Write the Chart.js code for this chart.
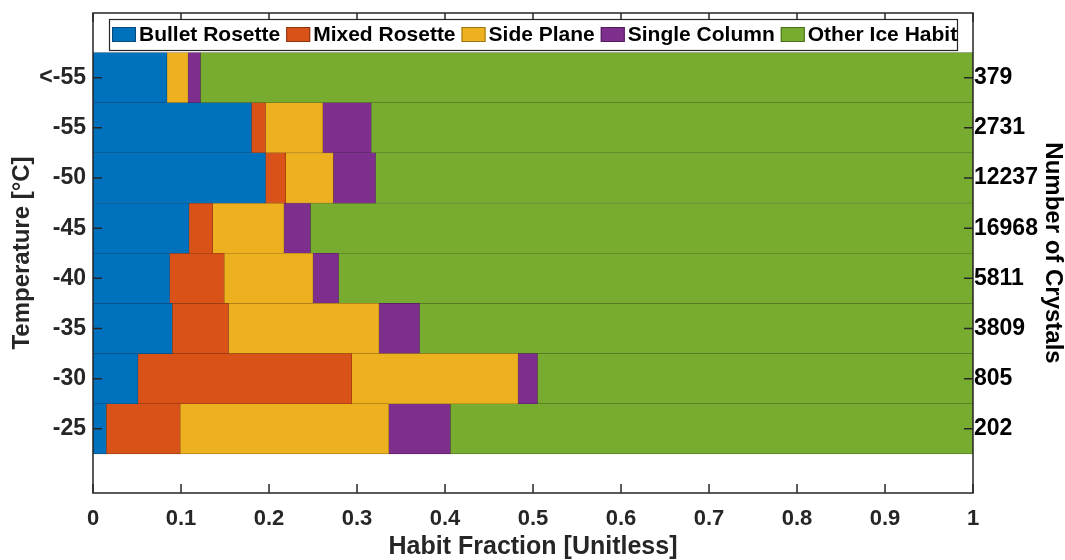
<!DOCTYPE html>
<html>
<head>
<meta charset="utf-8">
<title>Habit Fraction by Temperature</title>
<script src="https://cdn.jsdelivr.net/npm/chart.js@4/dist/chart.umd.min.js"></script>
<style>
  html, body { margin: 0; padding: 0; background: #fff; }
  canvas { display: block; }
</style>
</head>
<body>
<canvas id="habitChart" width="1065" height="560"></canvas>
<script>
// temperature bins, top row first
const tempLabels = ["<-55", "-55", "-50", "-45", "-40", "-35", "-30", "-25"];
const crystalCounts = ["379", "2731", "12237", "16968", "5811", "3809", "805", "202"];
const rowPos = [1, 2, 3, 4, 5, 6, 7, 8];
const xTicks = [0, 0.1, 0.2, 0.3, 0.4, 0.5, 0.6, 0.7, 0.8, 0.9, 1];

// habit fractions per row
const bulletRosette = [0.084, 0.180, 0.196, 0.109, 0.087, 0.090, 0.051, 0.015];
const mixedRosette  = [0.000, 0.016, 0.023, 0.027, 0.062, 0.064, 0.243, 0.084];
const sidePlane     = [0.024, 0.065, 0.054, 0.081, 0.101, 0.171, 0.189, 0.237];
const singleColumn  = [0.014, 0.055, 0.048, 0.030, 0.029, 0.046, 0.022, 0.070];
const otherHabit    = [0.878, 0.684, 0.679, 0.753, 0.721, 0.629, 0.495, 0.594];

const FONT = "'Liberation Sans', Arial, Helvetica, sans-serif";
const AXIS_COLOR = "#262626";

function series(label, values, fill, edge) {
    return {
        label: label,
        data: rowPos.map((p, i) => ({ x: values[i], y: p })),
        backgroundColor: fill,
        borderColor: edge,
        borderWidth: 0.6,
        borderSkipped: false,
        barPercentage: 1,
        categoryPercentage: 1,
    };
}

// box, inward ticks and the legend drawn inside the plot
const framePlugin = {
    id: "frame",
    afterDatasetsDraw(chart) {
        const { ctx, chartArea: a, scales } = chart;
        ctx.save();
        ctx.strokeStyle = AXIS_COLOR;
        ctx.lineWidth = 1.5;
        ctx.beginPath();
        xTicks.forEach((v) => {
            const px = scales.x.getPixelForValue(v);
            ctx.moveTo(px, a.bottom);
            ctx.lineTo(px, a.bottom - 9);
            ctx.moveTo(px, a.top);
            ctx.lineTo(px, a.top + 9);
        });
        rowPos.forEach((v) => {
            const py = scales.y.getPixelForValue(v);
            ctx.moveTo(a.left, py);
            ctx.lineTo(a.left + 9, py);
            ctx.moveTo(a.right, py);
            ctx.lineTo(a.right - 9, py);
        });
        ctx.stroke();
        ctx.strokeRect(a.left, a.top, a.right - a.left, a.bottom - a.top);

        // legend box
        const boxX = 109.5, boxY = 19.5, boxW = 848, boxH = 31;
        ctx.fillStyle = "#fff";
        ctx.fillRect(boxX, boxY, boxW, boxH);
        ctx.lineWidth = 1.2;
        ctx.strokeStyle = AXIS_COLOR;
        ctx.strokeRect(boxX, boxY, boxW, boxH);

        ctx.font = "bold 21px " + FONT;
        ctx.textBaseline = "middle";
        ctx.textAlign = "left";
        let x = 112;
        chart.data.datasets.forEach((ds) => {
            ctx.fillStyle = ds.backgroundColor;
            ctx.fillRect(x, 27, 24, 15);
            ctx.lineWidth = 1;
            ctx.strokeStyle = ds.borderColor;
            ctx.strokeRect(x + 0.5, 27.5, 23, 14);
            ctx.fillStyle = "#000";
            ctx.fillText(ds.label, x + 27, 35.5);
            x += 27 + ctx.measureText(ds.label).width + 6;
        });
        ctx.restore();
    },
};

const xTickFont = { family: FONT, size: 22, weight: "bold" };
const yTickFont = { family: FONT, size: 23, weight: "bold" };
const titleFont = { family: FONT, size: 24, weight: "bold", lineHeight: 1 };
const noGrid = { display: false, drawTicks: false, tickLength: 0 };

function rowAxis(width) {
    return (axis) => {
        axis.width = width;
        axis.paddingTop = 0;
        axis.paddingBottom = 0;
    };
}

const ctx = document.getElementById("habitChart").getContext("2d");
const habitChart = new Chart(ctx, {
    type: "bar",
    data: {
        datasets: [
            series("Bullet Rosette", bulletRosette, "#0072BD", "#0b4a78"),
            series("Mixed Rosette", mixedRosette, "#D95319", "#8a3510"),
            series("Side Plane", sidePlane, "#EDB120", "#9a7416"),
            series("Single Column", singleColumn, "#7E2F8E", "#4f1e5a"),
            series("Other Ice Habit", otherHabit, "#77AC30", "#4b6e1f"),
        ],
    },
    plugins: [framePlugin],
    options: {
        indexAxis: "y",
        responsive: false,
        animation: false,
        layout: { padding: { top: 13, left: 0, right: 0, bottom: 0 } },
        plugins: {
            legend: { display: false },
            tooltip: { enabled: false },
        },
        scales: {
            x: {
                type: "linear",
                stacked: true,
                min: 0,
                max: 1,
                afterBuildTicks: (axis) => {
                    axis.ticks = xTicks.map((v) => ({ value: v }));
                },
                afterFit: (axis) => {
                    axis.height = 67;
                },
                grid: noGrid,
                border: { display: false },
                ticks: {
                    autoSkip: false,
                    maxRotation: 0,
                    padding: 13,
                    color: AXIS_COLOR,
                    font: xTickFont,
                    callback: (v) => (v === 0 || v === 1 ? String(v) : v.toFixed(1)),
                },
                title: {
                    display: true,
                    text: "Habit Fraction [Unitless]",
                    color: AXIS_COLOR,
                    font: { family: FONT, size: 25, weight: "bold", lineHeight: 1 },
                    padding: { top: 0, bottom: 0 },
                },
            },
            y: {
                type: "linear",
                stacked: true,
                reverse: true,
                offset: false,
                min: -0.29,
                max: 9.28,
                afterBuildTicks: (axis) => {
                    axis.ticks = rowPos.map((v) => ({ value: v }));
                },
                afterFit: rowAxis(93),
                grid: noGrid,
                border: { display: false },
                ticks: {
                    autoSkip: false,
                    padding: 7,
                    color: AXIS_COLOR,
                    font: yTickFont,
                    callback: (v, i) => tempLabels[i],
                },
                title: {
                    display: true,
                    text: "Temperature [°C]",
                    color: AXIS_COLOR,
                    font: titleFont,
                    padding: { top: 10, bottom: 0 },
                },
            },
            y1: {
                type: "linear",
                position: "right",
                reverse: true,
                offset: false,
                min: -0.29,
                max: 9.28,
                afterBuildTicks: (axis) => {
                    axis.ticks = rowPos.map((v) => ({ value: v }));
                },
                afterFit: rowAxis(92),
                grid: noGrid,
                border: { display: false },
                ticks: {
                    autoSkip: false,
                    padding: 1,
                    color: "#000",
                    font: yTickFont,
                    callback: (v, i) => crystalCounts[i],
                },
                title: {
                    display: true,
                    text: "Number of Crystals",
                    color: "#000",
                    font: titleFont,
                    padding: { top: 0, bottom: 0 },
                },
            },
        },
    },
});
</script>
</body>
</html>
